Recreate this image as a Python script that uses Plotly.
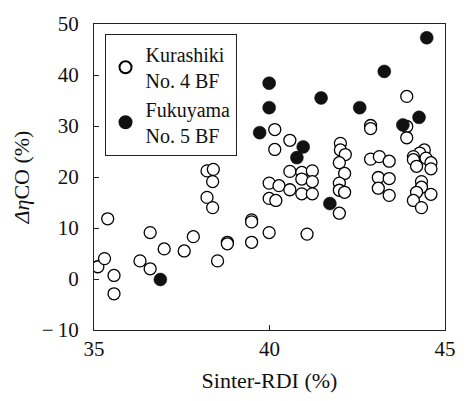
import plotly.graph_objects as go

# Kurashiki No. 4 BF (open circles)
kura_rdi = [35.11, 35.30, 35.39, 35.57, 35.57,
            36.31, 36.60, 36.60, 37.00, 37.57, 37.83,
            38.22, 38.40, 38.38, 38.22, 38.38,
            38.52, 38.80, 38.80, 39.49, 39.49, 39.49,
            39.99, 39.99, 39.99, 40.18, 40.27,
            40.15, 40.15, 40.58,
            40.58, 40.92, 41.22, 40.92, 41.22, 40.58, 40.92, 41.22,
            41.07,
            42.02, 42.02, 42.16, 41.99, 42.14, 41.99, 41.99, 42.14, 41.99,
            42.88, 42.88, 42.88, 43.13, 43.41, 43.10, 43.41, 43.10, 43.41,
            43.91, 43.91, 43.91,
            44.41, 44.28, 44.10, 44.46, 44.60, 44.10, 44.19, 44.60, 44.33,
            44.33, 44.19, 44.60, 44.10, 44.33]
kura_dco = [2.4, 4.0, 11.8, 0.7, -2.9,
            3.55, 2.0, 9.1, 5.9, 5.5, 8.3,
            21.2, 21.5, 19.1, 16.0, 14.0,
            3.55, 7.2, 6.9, 7.2, 11.6, 11.2,
            9.1, 18.8, 15.8, 15.4, 18.3,
            29.3, 25.4, 27.2,
            21.1, 20.9, 21.2, 19.6, 19.1, 17.5, 16.7, 16.7,
            8.8,
            26.6, 25.3, 24.4, 22.8, 20.7, 18.8, 17.4, 17.0, 12.9,
            30.1, 29.5, 23.5, 24.0, 23.1, 19.9, 19.7, 17.8, 16.4,
            35.8, 29.9, 27.7,
            25.3, 24.7, 24.0, 23.7, 22.8, 23.4, 22.1, 21.6, 19.1,
            18.0, 17.0, 16.6, 15.4, 14.0]

# Fukuyama No. 5 BF (filled circles)
fuku_rdi = [36.89, 39.72, 39.99, 39.99, 41.47, 40.96, 40.78,
            41.72, 42.57, 43.27, 43.80, 44.26, 44.48]
fuku_dco = [-0.1, 28.7, 38.4, 33.6, 35.5, 25.9, 23.8,
            14.8, 33.6, 40.7, 30.2, 31.7, 47.3]

x_ticks = [35, 40, 45]
y_ticks = [-10, 0, 10, 20, 30, 40, 50]
y_tick_text = ["\u2212\u200910", "0", "10", "20", "30", "40", "50"]

FONT = "'Liberation Serif', 'Times New Roman', 'DejaVu Serif', serif"
INK = "#111111"

fig = go.Figure()
fig.add_trace(go.Scatter(
    x=kura_rdi, y=kura_dco, mode="markers",
    name="Kurashiki<br>No. 4 BF",
    marker=dict(symbol="circle", size=12, color="white",
                line=dict(color="black", width=1.3)),
))
fig.add_trace(go.Scatter(
    x=fuku_rdi, y=fuku_dco, mode="markers",
    name="Fukuyama<br>No. 5 BF",
    marker=dict(symbol="circle", size=13, color=INK,
                line=dict(color=INK, width=0.5)),
))

axis_common = dict(
    showline=True, linecolor="#222222", linewidth=1, mirror=True,
    ticks="inside", ticklen=5, tickcolor="#222222", tickwidth=1,
    showgrid=False, zeroline=False,
    tickfont=dict(family=FONT, size=21, color=INK),
)

fig.update_xaxes(range=[35, 45], tickvals=x_ticks,
                 title=dict(text="Sinter-RDI (%)", standoff=12,
                            font=dict(family=FONT, size=22, color=INK)),
                 **axis_common)
fig.update_yaxes(range=[-10, 50], tickvals=y_ticks, ticktext=y_tick_text,
                 ticklabelstandoff=10,
                 title=dict(text="<i>Δη</i>CO (%)", standoff=6,
                            font=dict(family=FONT, size=22, color=INK)),
                 **axis_common)

fig.update_layout(
    width=468, height=401,
    margin=dict(l=94, r=12, t=21, b=66),
    paper_bgcolor="white", plot_bgcolor="white",
    font=dict(family=FONT, color=INK),
    legend=dict(x=0.03, y=0.968, xanchor="left", yanchor="top",
                bgcolor="white", bordercolor="#222222", borderwidth=1,
                font=dict(family=FONT, size=20, color=INK),
                itemsizing="constant", tracegroupgap=0),
    showlegend=True,
)

fig.write_html("out.html")
